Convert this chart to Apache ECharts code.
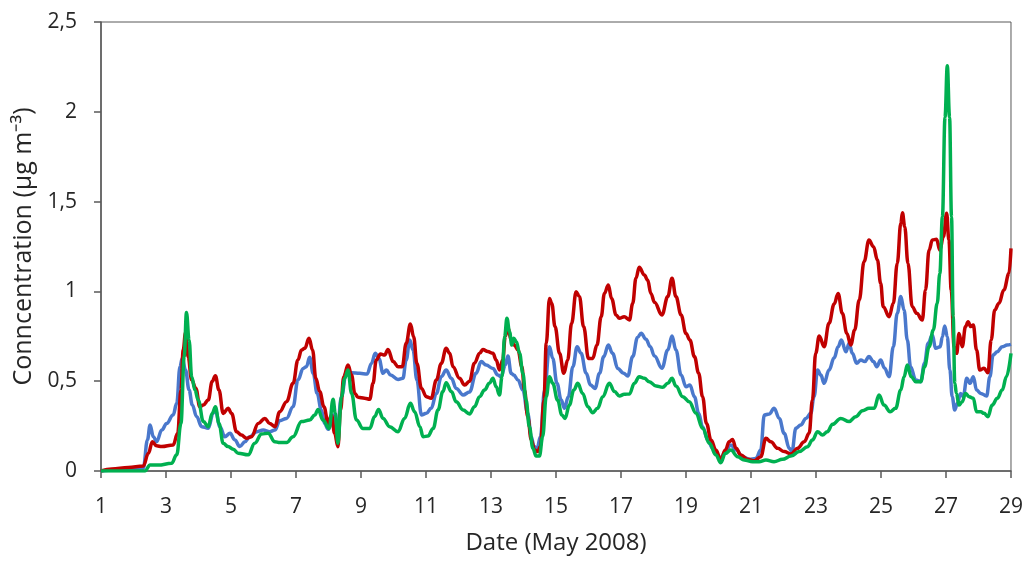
<!DOCTYPE html>
<html lang="en">
<head>
    <meta charset="UTF-8">
    <title>Concentration May 2008</title>
    <script type="text/javascript" src="https://cdn.jsdelivr.net/npm/echarts@6/dist/echarts.min.js"></script>
    <style>
        html, body { margin: 0; padding: 0; background: #ffffff; }
        #chart { width: 1026px; height: 561px; }
    </style>
</head>
<body>
<div id="chart"></div>

<script type="text/javascript">

// x = day of May 2008, y = concentration (ug m-3)
var redSeries = [[1.0,0],[1.33,0.011],[1.84,0.02],[2.3,0.028],[2.46,0.099],[2.58,0.163],[2.71,0.14],[2.87,0.136],[3.22,0.145],[3.36,0.21],[3.46,0.451],[3.53,0.674],[3.6,0.77],[3.68,0.637],[3.79,0.507],[3.92,0.46],[4.04,0.358],[4.15,0.368],[4.3,0.395],[4.42,0.498],[4.52,0.53],[4.63,0.451],[4.76,0.32],[4.91,0.349],[5.02,0.32],[5.17,0.219],[5.32,0.2],[5.48,0.182],[5.63,0.191],[5.84,0.265],[6.04,0.293],[6.19,0.265],[6.35,0.247],[6.5,0.33],[6.71,0.386],[6.91,0.488],[7.06,0.618],[7.17,0.674],[7.27,0.683],[7.4,0.739],[7.51,0.674],[7.61,0.516],[7.73,0.442],[7.86,0.358],[7.99,0.265],[8.09,0.312],[8.19,0.21],[8.29,0.135],[8.37,0.34],[8.47,0.525],[8.6,0.59],[8.71,0.534],[8.81,0.432],[8.91,0.41],[9.11,0.405],[9.27,0.4],[9.37,0.488],[9.47,0.618],[9.6,0.651],[9.73,0.646],[9.83,0.677],[9.99,0.609],[10.14,0.581],[10.27,0.581],[10.39,0.711],[10.52,0.818],[10.62,0.748],[10.72,0.599],[10.86,0.46],[11.01,0.414],[11.16,0.405],[11.32,0.507],[11.47,0.599],[11.62,0.683],[11.73,0.655],[11.83,0.581],[12.03,0.516],[12.19,0.479],[12.34,0.5],[12.49,0.6],[12.65,0.655],[12.75,0.677],[12.9,0.665],[13.06,0.655],[13.16,0.618],[13.26,0.562],[13.36,0.618],[13.44,0.75],[13.52,0.8],[13.62,0.729],[13.72,0.701],[13.83,0.674],[13.95,0.581],[14.03,0.451],[14.13,0.302],[14.24,0.173],[14.34,0.117],[14.44,0.108],[14.52,0.136],[14.63,0.395],[14.7,0.711],[14.8,0.961],[14.87,0.933],[14.97,0.804],[15.11,0.655],[15.24,0.544],[15.36,0.618],[15.48,0.822],[15.62,0.998],[15.72,0.971],[15.85,0.804],[16.0,0.627],[16.13,0.627],[16.26,0.701],[16.39,0.859],[16.49,0.989],[16.61,1.036],[16.71,0.961],[16.85,0.869],[16.95,0.85],[17.1,0.859],[17.26,0.841],[17.36,0.933],[17.46,1.073],[17.56,1.134],[17.72,1.091],[17.82,1.063],[17.92,0.989],[18.03,0.94],[18.26,0.869],[18.44,0.971],[18.57,1.073],[18.69,0.971],[18.85,0.869],[19.0,0.766],[19.12,0.729],[19.26,0.637],[19.39,0.544],[19.51,0.414],[19.63,0.265],[19.77,0.173],[19.92,0.117],[20.07,0.061],[20.21,0.117],[20.33,0.163],[20.43,0.176],[20.54,0.126],[20.69,0.089],[20.9,0.065],[21.1,0.057],[21.3,0.08],[21.46,0.182],[21.61,0.163],[21.82,0.126],[22.02,0.108],[22.23,0.095],[22.43,0.126],[22.64,0.163],[22.79,0.21],[22.89,0.395],[22.99,0.655],[23.1,0.752],[23.25,0.692],[23.4,0.822],[23.56,0.93],[23.68,0.989],[23.81,0.878],[23.95,0.766],[24.07,0.702],[24.19,0.785],[24.33,0.952],[24.48,1.166],[24.63,1.286],[24.77,1.249],[24.89,1.175],[24.99,1.045],[25.07,0.915],[25.25,0.859],[25.38,0.934],[25.5,1.156],[25.61,1.379],[25.66,1.438],[25.73,1.36],[25.83,1.156],[25.96,0.915],[26.1,0.878],[26.27,0.841],[26.37,1.008],[26.48,1.23],[26.58,1.286],[26.71,1.29],[26.81,1.23],[26.92,1.305],[27.02,1.435],[27.09,1.286],[27.16,1.008],[27.25,0.692],[27.33,0.655],[27.4,0.766],[27.5,0.692],[27.6,0.804],[27.68,0.831],[27.76,0.804],[27.84,0.813],[27.94,0.674],[28.04,0.562],[28.17,0.572],[28.29,0.547],[28.39,0.729],[28.5,0.896],[28.63,0.934],[28.78,1.008],[28.94,1.101],[29.0,1.24]];

var blueSeries = [[1,0],[2.3,0.015],[2.43,0.173],[2.51,0.256],[2.61,0.191],[2.71,0.163],[2.87,0.228],[3.02,0.265],[3.22,0.312],[3.33,0.377],[3.43,0.581],[3.5,0.628],[3.6,0.563],[3.71,0.451],[3.81,0.368],[3.94,0.303],[4.1,0.247],[4.3,0.238],[4.45,0.32],[4.52,0.34],[4.66,0.247],[4.81,0.191],[4.97,0.21],[5.12,0.173],[5.27,0.136],[5.43,0.163],[5.58,0.191],[5.79,0.219],[5.99,0.228],[6.19,0.219],[6.35,0.228],[6.5,0.28],[6.71,0.293],[6.91,0.358],[7.06,0.507],[7.22,0.571],[7.32,0.581],[7.42,0.633],[7.53,0.544],[7.65,0.432],[7.78,0.34],[7.88,0.265],[7.99,0.232],[8.09,0.265],[8.16,0.312],[8.26,0.21],[8.4,0.414],[8.55,0.553],[8.71,0.547],[8.96,0.544],[9.19,0.54],[9.32,0.599],[9.44,0.655],[9.55,0.627],[9.68,0.544],[9.78,0.562],[9.91,0.534],[10.14,0.51],[10.29,0.516],[10.39,0.618],[10.5,0.729],[10.6,0.674],[10.72,0.507],[10.86,0.312],[11.01,0.321],[11.16,0.349],[11.32,0.432],[11.47,0.525],[11.62,0.562],[11.78,0.516],[11.93,0.46],[12.14,0.423],[12.34,0.44],[12.54,0.544],[12.7,0.609],[12.85,0.59],[13.06,0.571],[13.21,0.534],[13.31,0.525],[13.44,0.59],[13.52,0.64],[13.62,0.544],[13.7,0.534],[13.83,0.507],[13.98,0.451],[14.13,0.321],[14.24,0.191],[14.32,0.136],[14.42,0.126],[14.52,0.191],[14.65,0.451],[14.8,0.692],[14.9,0.627],[15.03,0.488],[15.16,0.395],[15.26,0.349],[15.38,0.414],[15.52,0.581],[15.65,0.692],[15.77,0.655],[15.93,0.544],[16.06,0.479],[16.2,0.46],[16.34,0.544],[16.47,0.637],[16.61,0.701],[16.74,0.655],[16.9,0.571],[17.08,0.544],[17.21,0.529],[17.36,0.637],[17.51,0.744],[17.62,0.767],[17.77,0.733],[17.9,0.692],[18.03,0.64],[18.26,0.572],[18.44,0.674],[18.57,0.752],[18.69,0.674],[18.85,0.534],[19.0,0.469],[19.12,0.479],[19.26,0.414],[19.39,0.321],[19.51,0.247],[19.67,0.173],[19.82,0.126],[19.97,0.089],[20.07,0.07],[20.21,0.108],[20.38,0.145],[20.54,0.117],[20.74,0.08],[20.95,0.065],[21.15,0.07],[21.3,0.117],[21.41,0.312],[21.56,0.317],[21.71,0.349],[21.87,0.293],[22.02,0.21],[22.18,0.126],[22.26,0.108],[22.38,0.238],[22.53,0.256],[22.69,0.293],[22.84,0.321],[22.94,0.414],[23.05,0.562],[23.15,0.534],[23.25,0.488],[23.4,0.562],[23.56,0.63],[23.68,0.692],[23.78,0.729],[23.92,0.664],[24.02,0.711],[24.12,0.655],[24.25,0.6],[24.38,0.618],[24.5,0.609],[24.63,0.637],[24.77,0.609],[24.87,0.581],[24.99,0.618],[25.11,0.572],[25.25,0.525],[25.38,0.692],[25.5,0.878],[25.61,0.971],[25.71,0.896],[25.81,0.729],[25.91,0.581],[26.07,0.507],[26.22,0.497],[26.34,0.6],[26.45,0.711],[26.58,0.757],[26.68,0.683],[26.82,0.692],[26.89,0.748],[26.96,0.807],[27.04,0.748],[27.12,0.562],[27.19,0.414],[27.27,0.34],[27.35,0.377],[27.45,0.432],[27.53,0.414],[27.64,0.516],[27.74,0.488],[27.84,0.525],[27.94,0.451],[28.07,0.432],[28.25,0.418],[28.35,0.525],[28.45,0.646],[28.58,0.664],[28.73,0.692],[28.88,0.701],[29.0,0.705]];

var greenSeries = [[1,0],[2.35,0.0],[2.51,0.033],[2.76,0.033],[3.17,0.043],[3.33,0.09],[3.46,0.265],[3.56,0.637],[3.63,0.882],[3.71,0.73],[3.79,0.525],[3.89,0.451],[3.99,0.395],[4.15,0.275],[4.3,0.247],[4.42,0.32],[4.52,0.358],[4.63,0.265],[4.76,0.154],[4.91,0.136],[5.07,0.121],[5.22,0.099],[5.53,0.09],[5.73,0.154],[5.94,0.206],[6.14,0.21],[6.35,0.163],[6.5,0.158],[6.71,0.158],[6.91,0.191],[7.17,0.275],[7.42,0.284],[7.58,0.312],[7.68,0.343],[7.83,0.284],[8.02,0.237],[8.14,0.4],[8.21,0.321],[8.29,0.154],[8.4,0.414],[8.5,0.516],[8.6,0.562],[8.71,0.432],[8.86,0.284],[9.06,0.237],[9.27,0.237],[9.42,0.303],[9.54,0.343],[9.68,0.293],[9.88,0.247],[10.14,0.219],[10.34,0.293],[10.52,0.377],[10.65,0.33],[10.81,0.247],[10.91,0.191],[11.06,0.195],[11.22,0.237],[11.37,0.34],[11.52,0.442],[11.62,0.492],[11.78,0.442],[11.93,0.386],[12.14,0.34],[12.34,0.318],[12.49,0.358],[12.65,0.414],[12.8,0.451],[12.95,0.488],[13.06,0.516],[13.16,0.469],[13.26,0.423],[13.34,0.525],[13.42,0.748],[13.49,0.85],[13.57,0.776],[13.64,0.701],[13.7,0.739],[13.78,0.72],[13.88,0.655],[13.98,0.544],[14.08,0.395],[14.18,0.247],[14.29,0.126],[14.39,0.083],[14.49,0.083],[14.59,0.191],[14.7,0.414],[14.8,0.525],[14.9,0.488],[15.05,0.395],[15.18,0.312],[15.28,0.293],[15.41,0.367],[15.55,0.451],[15.67,0.488],[15.82,0.432],[15.98,0.358],[16.13,0.325],[16.28,0.349],[16.44,0.414],[16.64,0.488],[16.8,0.442],[16.95,0.418],[17.1,0.427],[17.26,0.429],[17.41,0.488],[17.56,0.525],[17.72,0.516],[17.87,0.497],[18.08,0.473],[18.28,0.466],[18.44,0.488],[18.57,0.516],[18.69,0.473],[18.9,0.414],[19.1,0.386],[19.31,0.321],[19.51,0.238],[19.72,0.154],[19.92,0.089],[20.07,0.046],[20.21,0.098],[20.38,0.117],[20.59,0.08],[20.79,0.061],[21.05,0.052],[21.25,0.052],[21.46,0.061],[21.71,0.052],[21.97,0.065],[22.23,0.083],[22.48,0.108],[22.74,0.135],[22.89,0.173],[23.05,0.219],[23.2,0.2],[23.35,0.219],[23.51,0.26],[23.76,0.293],[24.02,0.275],[24.22,0.302],[24.43,0.336],[24.63,0.349],[24.79,0.349],[24.94,0.423],[25.09,0.367],[25.28,0.33],[25.45,0.349],[25.61,0.451],[25.71,0.525],[25.81,0.59],[25.93,0.525],[26.07,0.497],[26.22,0.497],[26.34,0.581],[26.48,0.692],[26.61,0.785],[26.73,0.934],[26.81,1.1],[26.89,1.416],[26.97,1.97],[27.04,2.256],[27.11,1.97],[27.17,1.416],[27.22,0.86],[27.27,0.49],[27.32,0.432],[27.4,0.367],[27.5,0.386],[27.6,0.432],[27.71,0.414],[27.84,0.405],[27.94,0.33],[28.07,0.33],[28.17,0.321],[28.29,0.302],[28.42,0.367],[28.58,0.405],[28.73,0.451],[28.86,0.525],[29.0,0.655]];

var firstDay = 1;     // first tick label on the date axis
var lastDay = 29;
var dayStep = 2;
var yTicks = [0, 0.5, 1, 1.5, 2, 2.5];

var xTitle = 'Date (May 2008)';
var yTitle = 'Conncentration (\u00b5g m\u207b\u00b3)';

// axis counts from 0 so ticks land on 1,3,5...; labels add the first day back
function shiftDays(arr) {
    var out = [];
    for (var i = 0; i < arr.length; i++) {
        out.push([arr[i][0] - firstDay, arr[i][1]]);
    }
    return out;
}

var myChart = echarts.init(document.getElementById('chart'));

var textColor = '#262626';
var lineColor = '#595959';
var fontName = 'Open Sans';

function lineSeries(name, data, color, z) {
    return {
        name: name,
        type: 'line',
        data: shiftDays(data),
        showSymbol: false,
        smooth: 0.4,
        smoothMonotone: 'x',
        lineStyle: {color: color, width: 3.5},
        itemStyle: {color: color},
        z: z
    };
}

var option = {
    backgroundColor: '#ffffff',
    animation: false,
    grid: {
        left: 101, right: 14, top: 22, bottom: 90,
        show: true, borderColor: lineColor, borderWidth: 1
    },
    xAxis: {
        type: 'value',
        min: 0,
        max: lastDay - firstDay,
        interval: dayStep,
        name: xTitle,
        nameLocation: 'middle',
        nameGap: 60,
        nameTextStyle: {color: textColor, fontSize: 24, fontFamily: fontName},
        axisLine: {show: true, lineStyle: {color: lineColor, width: 1.5}},
        axisTick: {show: true, inside: false, length: 7, lineStyle: {color: lineColor, width: 1.5}},
        axisLabel: {
            color: textColor, fontSize: 21, fontFamily: fontName, margin: 26,
            formatter: function (v) { return String(v + firstDay); }
        },
        splitLine: {show: false}
    },
    yAxis: {
        type: 'value',
        min: yTicks[0],
        max: yTicks[yTicks.length - 1],
        interval: yTicks[1] - yTicks[0],
        name: yTitle,
        nameLocation: 'middle',
        nameGap: 64,
        nameTextStyle: {color: textColor, fontSize: 25, fontFamily: fontName},
        axisLine: {show: true, lineStyle: {color: lineColor, width: 1.5}},
        axisTick: {show: true, inside: false, length: 7, lineStyle: {color: lineColor, width: 1.5}},
        axisLabel: {
            color: textColor, fontSize: 21, fontFamily: fontName, margin: 24,
            formatter: function (v) { return String(v).replace('.', ','); }
        },
        splitLine: {show: false}
    },
    series: [
        lineSeries('blue', blueSeries, '#4A78CC', 2),
        lineSeries('red', redSeries, '#C00000', 3),
        lineSeries('green', greenSeries, '#00B050', 4)
    ]
};

myChart.setOption(option);

</script>
</body>
</html>
